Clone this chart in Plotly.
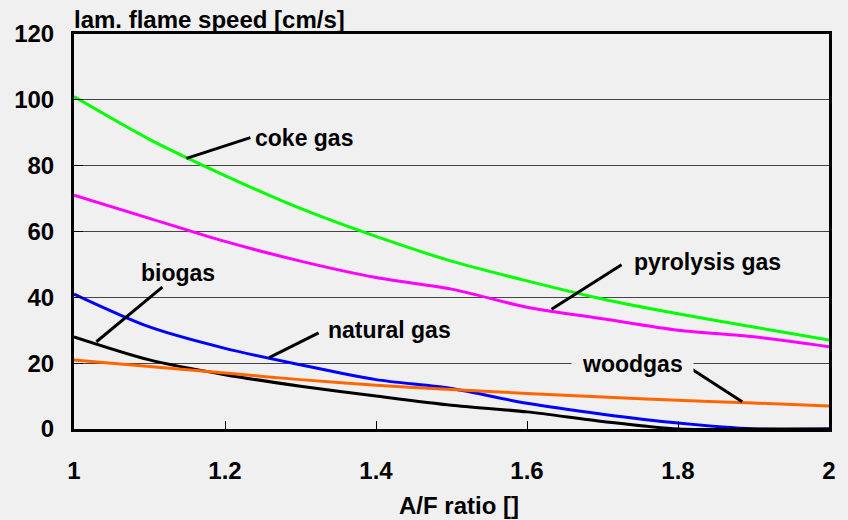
import plotly.graph_objects as go

# A/F ratio values
af_ratio = [1.0, 1.1, 1.2, 1.3, 1.4, 1.5, 1.6, 1.7, 1.8, 1.9, 2.0]

# laminar flame speed [cm/s]
coke_gas = [101, 88, 77, 67, 58.5, 51, 45, 39.5, 35, 31, 27]
pyrolysis_gas = [71, 64, 57, 51, 46, 42.5, 37, 33.5, 30, 28, 25]
natural_gas = [41, 31, 24.5, 19.5, 15, 12.3, 7.8, 4.5, 1.8, 0, 0]
biogas = [28, 21, 16.5, 13, 10, 7.2, 5.2, 2.3, 0, 0, 0]
woodgas = [21, 19, 17, 15, 13.3, 12, 10.8, 9.7, 8.7, 7.9, 7]

series_names = ["coke gas", "pyrolysis gas", "natural gas", "biogas", "woodgas"]
series_values = [coke_gas, pyrolysis_gas, natural_gas, biogas, woodgas]
series_colors = ["#00ff00", "#ff00ff", "#0000ff", "#000000", "#ff6600"]

# curve labels: text position and pointer line (data coordinates)
label_text = ["coke gas", "biogas", "natural gas", "pyrolysis gas", "woodgas"]
label_x = [1.305, 1.138, 1.418, 1.839, 1.7395]
label_y = [88.5, 47.4, 30.0, 50.7, 19.9]
pointer_x0 = [1.149, 1.0297, 1.2585, 1.6325, 1.819]
pointer_y0 = [82.2, 26.5, 21.7, 36.4, 18.1]
pointer_x1 = [1.2336, 1.117, 1.324, 1.7253, 1.885]
pointer_y1 = [88.5, 43.1, 29.2, 49.9, 8.3]
label_bg = [False, False, False, False, True]

x_ticks = [1, 1.2, 1.4, 1.6, 1.8, 2]
x_tick_text = ["1", "1.2", "1.4", "1.6", "1.8", "2"]
y_ticks = [0, 20, 40, 60, 80, 100, 120]

FONT = "Liberation Sans, Arial, Helvetica, sans-serif"
BG = "#f0f0f0"
FS = 23
FS_AX = 24

fig = go.Figure()
for name, vals, col in zip(series_names, series_values, series_colors):
    fig.add_trace(go.Scatter(
        x=af_ratio, y=vals, mode="lines", name=name,
        line=dict(color=col, width=3, shape="spline", smoothing=0.8),
        showlegend=False,
    ))

shapes = []
for x0, y0, x1, y1 in zip(pointer_x0, pointer_y0, pointer_x1, pointer_y1):
    shapes.append(dict(type="line", xref="x", yref="y", x0=x0, y0=y0, x1=x1, y1=y1,
                       line=dict(color="black", width=3)))

annotations = []
for t, x, y, bg in zip(label_text, label_x, label_y, label_bg):
    annotations.append(dict(
        x=x, y=y, xref="x", yref="y", text=t, showarrow=False,
        font=dict(family=FONT, size=FS, color="black", weight="bold"),
        bgcolor=BG if bg else "rgba(0,0,0,0)", borderpad=10 if bg else 0,
        xanchor="center", yanchor="middle",
    ))

annotations.append(dict(
    x=0, y=1, xref="paper", yref="paper", text="lam. flame speed [cm/s]",
    showarrow=False, xanchor="left", yanchor="bottom", yshift=-1, xshift=-2,
    font=dict(family=FONT, size=FS_AX, color="black", weight="bold"),
))
annotations.append(dict(
    x=0.51, y=0, xref="paper", yref="paper", text="A/F ratio []",
    showarrow=False, xanchor="center", yanchor="middle", yshift=-76,
    font=dict(family=FONT, size=FS_AX, color="black", weight="bold"),
))

fig.update_layout(
    width=848, height=520, autosize=False,
    margin=dict(l=74, r=12, t=34, b=91),
    paper_bgcolor=BG, plot_bgcolor=BG,
    shapes=shapes, annotations=annotations,
    showlegend=False,
)
fig.update_xaxes(
    range=[1, 2], tickvals=x_ticks, ticktext=x_tick_text,
    ticks="inside", ticklen=8, tickwidth=1, tickcolor="black",
    showgrid=False, zeroline=False,
    showline=True, linecolor="black", linewidth=3, mirror=True,
    ticklabelstandoff=18,
    tickfont=dict(family=FONT, size=FS_AX, color="black", weight="bold"),
)
fig.update_yaxes(
    range=[0, 120], tickvals=y_ticks,
    ticks="inside", ticklen=9, tickwidth=1, tickcolor="black",
    showgrid=True, gridcolor="#444444", gridwidth=1, zeroline=False,
    showline=True, linecolor="black", linewidth=3, mirror=True,
    ticklabelstandoff=12,
    tickfont=dict(family=FONT, size=FS_AX, color="black", weight="bold"),
)

fig.write_html("out.html")
